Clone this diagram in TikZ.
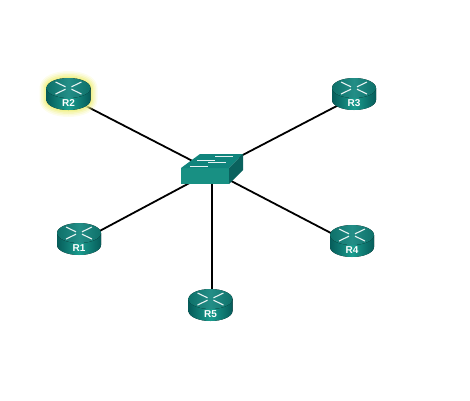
\documentclass[tikz,border=0pt]{standalone}
\usepackage{fontspec}
\setmainfont{Liberation Sans}
\usetikzlibrary{backgrounds}
\definecolor{tealdark}{RGB}{6,92,90}
\definecolor{tealmid}{RGB}{26,156,142}
\definecolor{tealtop}{RGB}{16,132,124}
\definecolor{tealside}{RGB}{10,98,94}
\definecolor{glowcol}{RGB}{240,240,130}
\begin{document}
\begin{tikzpicture}[x=1pt,y=-1pt,
    link/.style={line width=1.8pt,black},
    hub/.style={inner sep=0pt,minimum size=0pt},
    rlabel/.style={text=white,inner sep=0pt,font=\fontsize{10}{12}\selectfont\bfseries},
    cross/.style={white,line width=1.1pt,opacity=0.9}]
        \useasboundingbox (0,0) rectangle (470,400);

        % glow around R2
        \foreach \w/\o in {14/0.15,11/0.2,8/0.3,5/0.45,2/0.7}
            \draw[glowcol,fill=glowcol,line width=\w pt,opacity=\o,line join=round]
                (46.5,88) arc[start angle=180,end angle=360,x radius=22,y radius=10] -- (90.5,100)
                arc[start angle=0,end angle=180,x radius=22,y radius=10] -- cycle;

        % routers
        \foreach \n/\x/\y in {R2/68.5/88,R3/354/88,R1/79/233,R4/352/235,R5/210.5/299} {
            \begin{scope}[shift={(\x,\y)}]
                \fill[left color=tealdark,right color=tealdark,middle color=tealmid]
                    (-22,0) -- (-22,12) arc[start angle=180,end angle=0,x radius=22,y radius=10] -- (22,0) -- cycle;
                \fill[left color=tealtop!85!black,right color=tealtop!85!black,middle color=tealtop!92!white]
                    (0,0) ellipse[x radius=22,y radius=10];
                \draw[cross] (-13,-6) -- (-3,-1.2) (3,1.2) -- (13,6);
                \draw[cross] (13,-6) -- (3,-1.2) (-3,1.2) -- (-13,6);
                \node[hub] (\n) at (0,9) {};
                \node[rlabel] (\n text) at (0,15) {\n};
            \end{scope}
        }

        % switch
        \fill[tealmid!92!black] (181,168) rectangle (229,184);
        \fill[tealtop] (181,168) -- (200,154) -- (243,154) -- (229,168) -- cycle;
        \fill[tealside] (229,168) -- (243,154) -- (243,170) -- (229,184) -- cycle;
        \draw[cross,line width=0.9pt] (215,156.5) -- (233,156.5) (197,160) -- (215,160)
            (208,162.5) -- (226,162.5) (190,166) -- (208,166);
        \node[hub] (SW) at (212,171) {};

        \begin{scope}[on background layer]
            \draw[link] (R2) -- (SW);
            \draw[link] (R3) -- (SW);
            \draw[link] (R1) -- (SW);
            \draw[link] (R4) -- (SW);
            \draw[link] (SW) -- (SW |- R5);
        \end{scope}
\end{tikzpicture}
\end{document}
